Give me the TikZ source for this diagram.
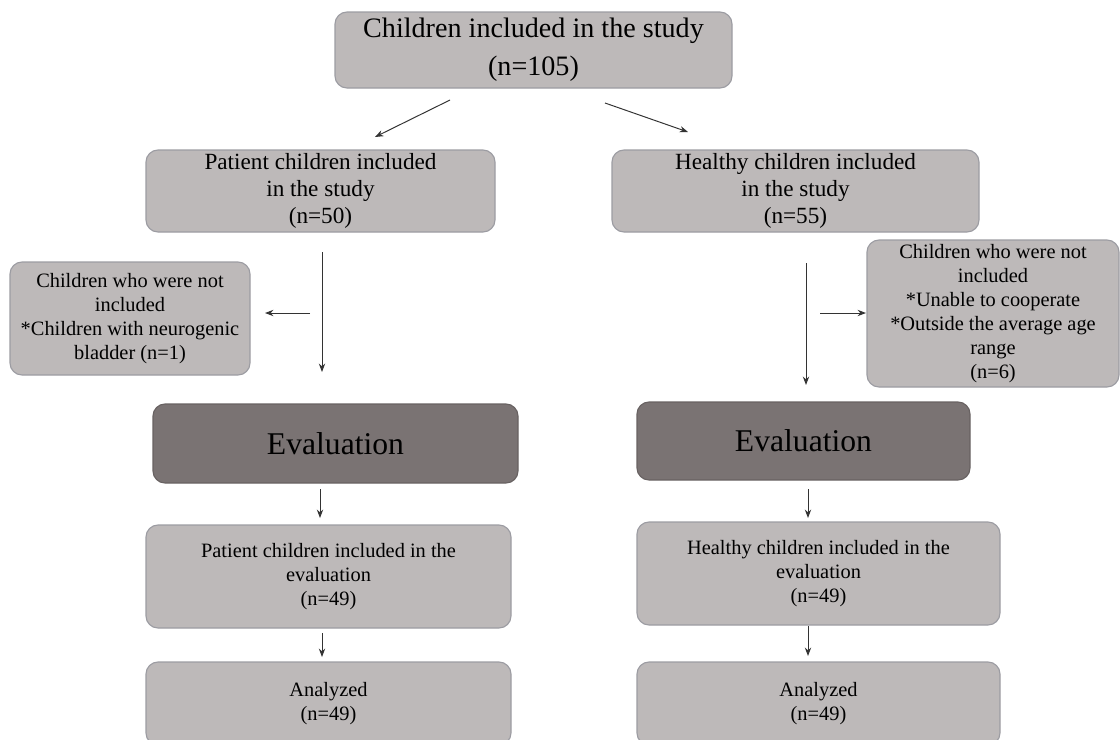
\documentclass[tikz,border=0pt]{standalone}
\usepackage{fontspec}
\setmainfont{Liberation Serif}
\usetikzlibrary{arrows.meta}
\definecolor{boxgray}{HTML}{BDB9B9}
\definecolor{boxline}{HTML}{9C9CA2}
\definecolor{evalgray}{HTML}{7A7373}
\definecolor{evalline}{HTML}{686262}
\tikzset{
  box/.style={draw=boxline, fill=boxgray, rounded corners=0.3cm, align=center, inner sep=0pt, line width=0.8pt},
  evalbox/.style={box, draw=evalline, fill=evalgray},
  sz/.style 2 args={minimum width=#1*0.025cm, minimum height=#2*0.025cm},
  arr/.style={->, line width=0.7pt, draw=black!80}
}
\begin{document}
\begin{tikzpicture}[x=0.025cm, y=-0.025cm, line join=round, >={Stealth[length=6pt,width=4.5pt]}]
\def\big{\fontsize{20}{27}\selectfont}
\def\mid{\fontsize{16.5}{19}\selectfont}
\def\sml{\fontsize{14.5}{17}\selectfont}
\useasboundingbox (0,0) rectangle (1120,739);
\clip (0,0) rectangle (1120,739);
% boxes
\node[box, sz={397}{76}, font=\big] (all) at (533.5,50) {Children included in the study\\(n=105)};
\node[box, sz={349}{82}, font=\mid] (pat) at (320.5,191) {Patient children included\\in the study\\(n=50)};
\node[box, sz={367}{82}, font=\mid] (hea) at (795.5,191) {Healthy children included\\in the study\\(n=55)};
\node[box, sz={240}{113}, font=\sml] (exL) at (130,318.5) {Children who were not\\included\\*Children with neurogenic\\bladder (n=1)};
\node[box, sz={252}{147}, font=\sml] (exR) at (993,313.5) {Children who were not\\included\\*Unable to cooperate\\*Outside the average age\\range\\(n=6)};
\node[evalbox, sz={365}{79}, font=\fontsize{22.5}{26}\selectfont] (evL) at (335.5,443.5) {Evaluation};
\node[evalbox, sz={333}{78}, font=\fontsize{22.5}{26}\selectfont] (evR) at (803.5,441) {Evaluation};
\node[box, sz={365}{103}, font=\sml] (peL) at (328.5,576.5) {Patient children included in the\\evaluation\\(n=49)};
\node[box, sz={363}{103}, font=\sml] (peR) at (818.5,573.5) {Healthy children included in the\\evaluation\\(n=49)};
\node[box, sz={365}{83}, font=\sml] (anL) at (328.5,703.5) {Analyzed\\(n=49)};
\node[box, sz={363}{83}, font=\sml] (anR) at (818.5,703.5) {Analyzed\\(n=49)};
% arrow ends
\coordinate (a1) at (450,100); \coordinate (b1) at (375,137);
\coordinate (a2) at (605,103); \coordinate (b2) at (688,132);
\coordinate (a3) at (322,252); \coordinate (b3) at (322,372);
\coordinate (a4) at (310,313); \coordinate (b4) at (265,313);
\coordinate (a5) at (806,263); \coordinate (b5) at (806,385);
\coordinate (a6) at (820,313); \coordinate (b6) at (866,313);
\coordinate (a7) at (320,489); \coordinate (b7) at (320,518);
\coordinate (a8) at (808,489); \coordinate (b8) at (808,518);
\coordinate (a9) at (322,633); \coordinate (b9) at (322,657);
\coordinate (a10) at (808,626); \coordinate (b10) at (808,656);
\foreach \i in {1,...,10} \draw[arr] (a\i)--(b\i);
\end{tikzpicture}
\end{document}
